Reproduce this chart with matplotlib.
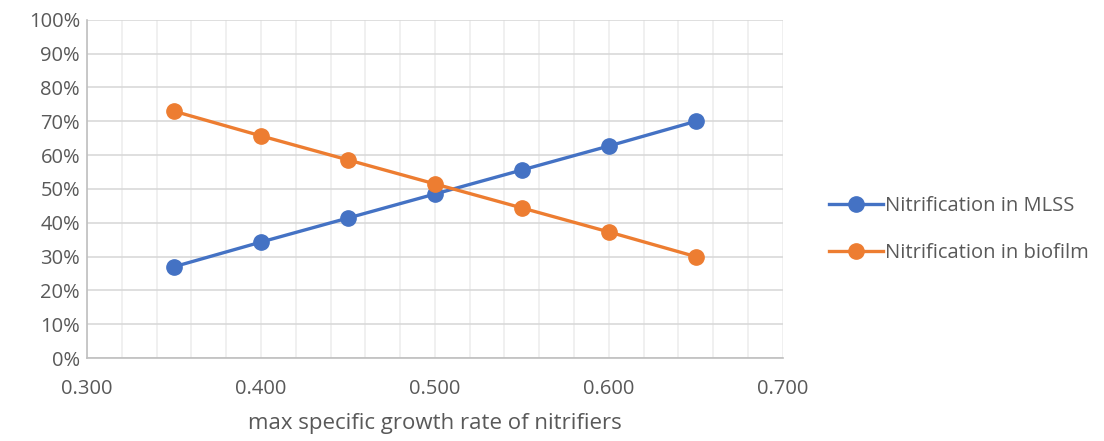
import matplotlib.pyplot as plt
from matplotlib.ticker import MultipleLocator, PercentFormatter, FormatStrFormatter

plt.rcParams['font.family'] = ['Open Sans', 'DejaVu Sans']

# growth rate vs share of nitrification
growth_rate = [0.35, 0.40, 0.45, 0.50, 0.55, 0.60, 0.65]
nitr_mlss = [27.0, 34.3, 41.4, 48.5, 55.6, 62.7, 70.0]
nitr_biofilm = [73.0, 65.7, 58.6, 51.5, 44.4, 37.3, 30.0]

fig = plt.figure(figsize=(11.04, 4.41), dpi=100)
ax = fig.add_axes([0.0788, 0.188, 0.6302, 0.767])

ax.plot(growth_rate, nitr_mlss, color='#4472C4', lw=2.4, marker='o', ms=11,
        label='Nitrification in MLSS', zorder=3)
ax.plot(growth_rate, nitr_biofilm, color='#ED7D31', lw=2.4, marker='o', ms=11,
        label='Nitrification in biofilm', zorder=3)

ax.set_xlim(0.3, 0.7)
ax.set_ylim(0, 100)
ax.xaxis.set_major_locator(MultipleLocator(0.1))
ax.xaxis.set_minor_locator(MultipleLocator(0.02))
ax.xaxis.set_major_formatter(FormatStrFormatter('%.3f'))
ax.yaxis.set_major_locator(MultipleLocator(10))
ax.yaxis.set_major_formatter(PercentFormatter(decimals=0))

ax.grid(axis='x', which='both', color='#EDEDED', lw=1.2, zorder=0)
ax.grid(axis='y', which='major', color='#D9D9D9', lw=1.2, zorder=1)
ax.tick_params(which='both', length=0, labelsize=14.5, labelcolor='#595959')
ax.tick_params(axis='x', pad=15)
ax.tick_params(axis='y', pad=5)

for side in ['top', 'right']:
    ax.spines[side].set_visible(False)
for side in ['left', 'bottom']:
    ax.spines[side].set_color('#BFBFBF')
    ax.spines[side].set_linewidth(1.2)

ax.set_xlabel('max specific growth rate of nitrifiers', fontsize=16, color='#595959', labelpad=10)

ax.legend(loc='center left', bbox_to_anchor=(1.04, 0.38), frameon=False,
          fontsize=14.5, labelcolor='#595959', handlelength=2.7, handletextpad=0.1,
          labelspacing=1.3)

fig.savefig('out.png', dpi=100)
